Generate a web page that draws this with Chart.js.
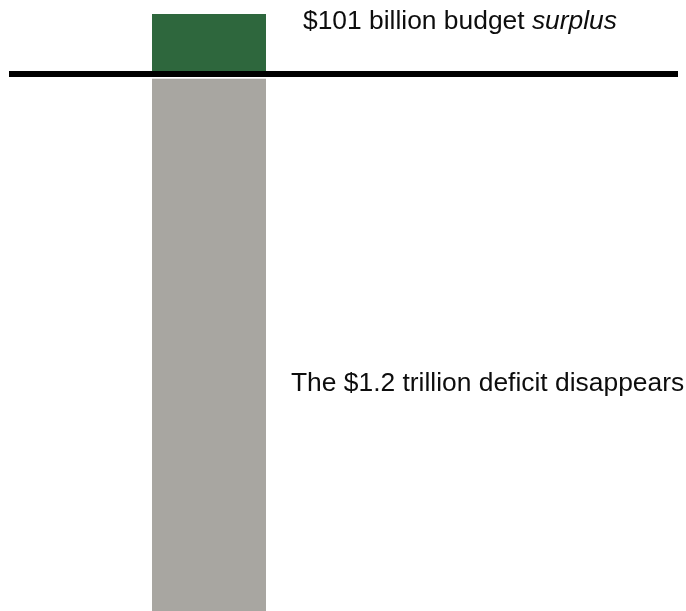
<!DOCTYPE html>
<html>
<head>
<meta charset="utf-8">
<script src="https://cdn.jsdelivr.net/npm/chart.js@4/dist/chart.umd.min.js"></script>
<style>
  html, body { margin: 0; padding: 0; background: #fff; }
  #wrap { width: 686px; height: 611px; position: relative; }
</style>
</head>
<body>
<div id="wrap"><canvas id="grafica"></canvas></div>
<script>
// budget balance, billions of dollars
const categorias = ['Balance'];
const superavit = [101];
const deficit = [-1200];
const etiquetaSuperavit = ['$101 billion budget ', 'surplus'];
const etiquetaDeficit = 'The $1.2 trillion deficit disappears';

const fuente = '"Liberation Sans", Arial, sans-serif';
const tam = '26.4px ';

// thick zero line plus the two annotations
const anotaciones = {
    id: 'anotaciones',
    afterDatasetsDraw(chart) {
        const { ctx, chartArea, scales } = chart;
        const y0 = scales.y.getPixelForValue(0);
        ctx.save();
        ctx.fillStyle = '#000';
        ctx.fillRect(9, y0 - 3, 669, 6);

        ctx.fillStyle = '#0d0d0d';
        ctx.font = tam + fuente;
        ctx.textBaseline = 'alphabetic';
        const barra = chart.getDatasetMeta(0).data[0];
        let x = chartArea.right + 37;
        const yTop = barra.y + 15;
        ctx.fillText(etiquetaSuperavit[0], x, yTop);
        x += ctx.measureText(etiquetaSuperavit[0]).width;
        ctx.font = 'italic ' + tam + fuente;
        ctx.fillText(etiquetaSuperavit[1], x, yTop);

        ctx.font = tam + fuente;
        ctx.fillText(etiquetaDeficit, chartArea.right + 25, y0 + 317);
        ctx.restore();
    }
};

new Chart(document.getElementById('grafica'), {
    type: 'bar',
    data: {
        labels: categorias,
        datasets: [
            {
                data: superavit,
                backgroundColor: '#2e673d',
                borderWidth: 0
            },
            {
                data: deficit,
                backgroundColor: '#a8a6a1',
                borderColor: '#ffffff',
                borderWidth: { top: 5, right: 0, bottom: 0, left: 0 },
                borderSkipped: false
            }
        ]
    },
    options: {
        responsive: true,
        maintainAspectRatio: false,
        animation: false,
        layout: { padding: { left: 152, right: 420, top: 14, bottom: 0 } },
        datasets: { bar: { categoryPercentage: 1, barPercentage: 1 } },
        plugins: { legend: { display: false }, tooltip: { enabled: false } },
        scales: {
            x: { display: false, stacked: true },
            y: { display: false, stacked: true, min: -904, max: 101 }
        }
    },
    plugins: [anotaciones]
});
</script>
</body>
</html>
